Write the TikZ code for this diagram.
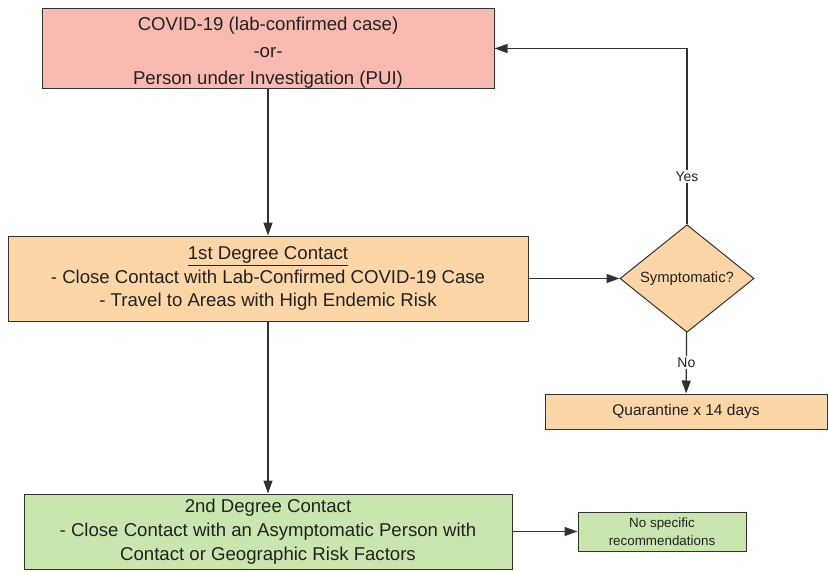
\documentclass[tikz,border=0pt]{standalone}
\usepackage{fontspec}
\setmainfont{Liberation Sans}
\usetikzlibrary{shapes.geometric,arrows.meta}
\definecolor{casered}{RGB}{248,186,176}
\definecolor{contactorange}{RGB}{252,214,166}
\definecolor{contactgreen}{RGB}{200,230,174}
\definecolor{linegray}{RGB}{50,50,50}
\definecolor{textgray}{RGB}{34,34,34}

\begin{document}
\begin{tikzpicture}[x=1pt, y=-1pt,
    box/.style={draw=linegray, line width=1pt, align=center, inner sep=0pt, text=textgray},
    flow/.style={draw=linegray, line width=1.3pt, -{Triangle[length=13pt,width=9pt]}},
    answer/.style={fill=white, inner sep=1.5pt, text=textgray, font=\fontsize{14}{16}\selectfont}]
    \useasboundingbox (0,0) rectangle (828,571);
    % boxes
    \node[box, fill=casered, minimum width=452pt, minimum height=77pt,
        font=\fontsize{18.6}{26}\selectfont] (pui) at (268,48.5)
        {\raisebox{-4pt}[\height][\depth]{\begin{tabular}{@{}c@{}}COVID-19 (lab-confirmed case)\\[1pt]-or-\\[1pt]Person under Investigation (PUI)\end{tabular}}};
    \node[box, fill=contactorange, minimum width=520pt, minimum height=85pt,
        font=\fontsize{18.6}{23.5}\selectfont] (first) at (268,278.5)
        {\underline{1st Degree Contact}\\- Close Contact with Lab-Confirmed COVID-19 Case\\- Travel to Areas with High Endemic Risk};
    \node[box, diamond, fill=contactorange, minimum width=134pt, minimum height=99pt,
        font=\fontsize{14.8}{17}\selectfont] (sympt) at (687,278.5) {Symptomatic?};
    \node[box, fill=contactorange, minimum width=282pt, minimum height=35pt,
        font=\fontsize{15.5}{18}\selectfont] (quar) at (686,411.5) {Quarantine x 14 days};
    \node[box, fill=contactgreen, minimum width=488pt, minimum height=75pt,
        font=\fontsize{18.6}{24}\selectfont] (second) at (268,531.5)
        {2nd Degree Contact\\- Close Contact with an Asymptomatic Person with\\Contact or Geographic Risk Factors};
    \node[box, fill=contactgreen, minimum width=168pt, minimum height=39pt,
        font=\fontsize{13.4}{18}\selectfont] (norec) at (662,531.5) {No specific\\recommendations};
    % connectors
    \draw[flow] (pui) -- (first);
    \draw[flow] (first) -- (second);
    \draw[flow] (first) -- (sympt);
    \coordinate (bend) at (sympt.north |- pui.east);
    \draw[flow] (sympt.north) -- node[answer, pos=0.27] (yes) {Yes} (bend) -- (pui.east);
    \draw[flow] (sympt) -- node[answer, pos=0.49] (no) {No} (quar);
    \draw[flow] (second) -- (norec);
\end{tikzpicture}
\end{document}
